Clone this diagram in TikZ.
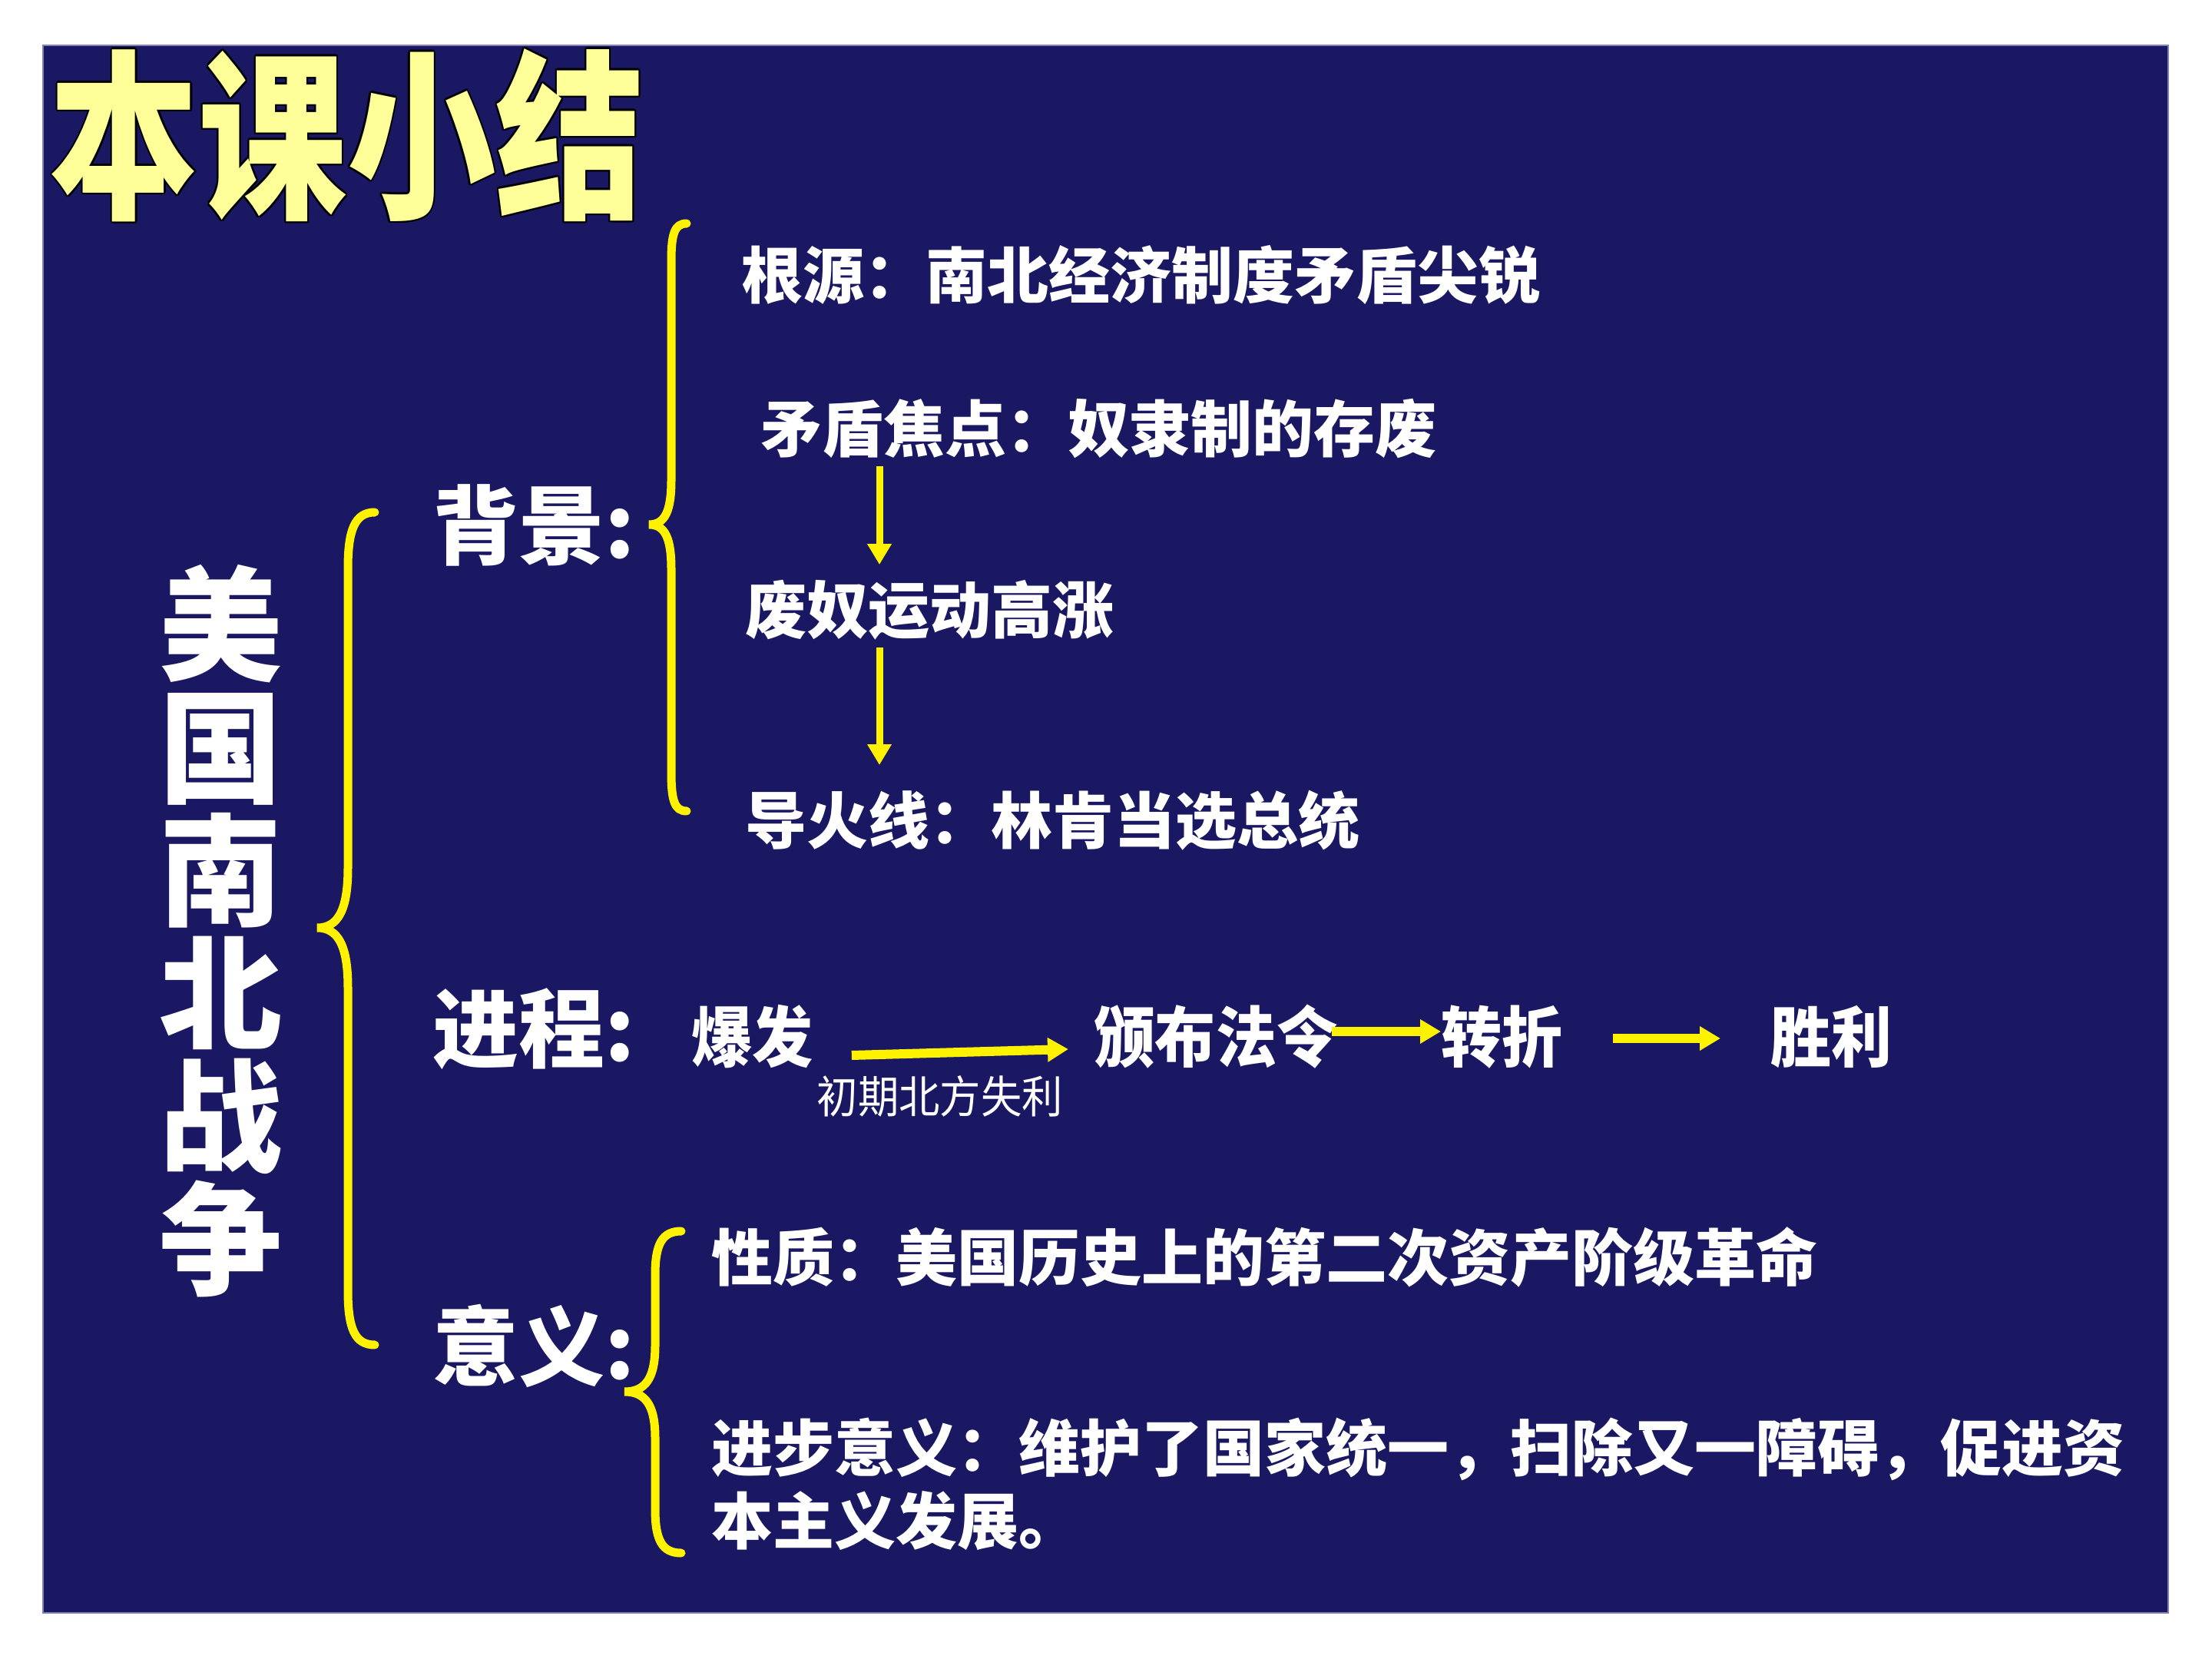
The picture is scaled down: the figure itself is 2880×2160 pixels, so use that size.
\documentclass[tikz,border=0pt]{standalone}
\usepackage{fontspec}
\setmainfont{Noto Sans CJK SC}
\newfontfamily\cjkn[FakeStretch=0.92]{Noto Sans CJK SC}
\newfontfamily\cjkt[FakeStretch=0.82]{Noto Sans CJK SC}
\usetikzlibrary{arrows.meta,calc}
\definecolor{navy}{RGB}{26,24,98}
\definecolor{titley}{RGB}{255,255,153}
\definecolor{rimc}{RGB}{130,130,180}
\newcommand\ttlout[1]{\leavevmode
  \rlap{\color{black}\kern0.6pt#1}%
  \rlap{\color{black}\kern-0.6pt#1}%
  \rlap{\color{black}\raisebox{0.6pt}{#1}}%
  \rlap{\color{black}\raisebox{-0.6pt}{#1}}%
  \rlap{\color{black}\kern0.45pt\raisebox{0.45pt}{#1}}%
  \rlap{\color{black}\kern-0.45pt\raisebox{0.45pt}{#1}}%
  \rlap{\color{black}\kern0.45pt\raisebox{-0.45pt}{#1}}%
  \rlap{\color{black}\kern-0.45pt\raisebox{-0.45pt}{#1}}%
  {\color{titley}#1}}
\begin{document}
\begin{tikzpicture}[x=0.25pt,y=-0.25pt,
  txt/.style={text=white, inner sep=0pt, anchor=west, font=\fontsize{20}{23.75}\selectfont\bfseries},
  head/.style={text=white, inner sep=0pt, anchor=west, font=\fontsize{28}{32}\selectfont\bfseries},
  prog/.style={text=white, inner sep=0pt, anchor=west, font=\cjkn\fontsize{21.5}{24}\selectfont\bfseries},
  note/.style={text=white, inner sep=0pt, anchor=west, font=\cjkn\fontsize{14.5}{16}\selectfont},
  bracel/.style={draw=yellow, line width=2.75pt, line cap=round},
  varrow/.style={draw=yellow, line width=2.25pt, -{Triangle[length=6.75pt,width=7.5pt]}},
  harrow/.style={draw=yellow, line width=3pt, -{Triangle[length=6.75pt,width=7.5pt]}}]
\useasboundingbox (0,0) rectangle (2880,2160);
\fill[white] (0,0) rectangle (2880,2160);
\filldraw[fill=navy, draw=rimc, line width=0.5pt] (56,59) rectangle (2823,2100);

% title
\node[inner sep=0pt, font=\cjkt\fontsize{59}{59}\selectfont\bfseries] (title) at (452,176) {\ttlout{本课小结}};

% vertical main title
\node[inner sep=0pt, align=center, text=white, font=\fontsize{40}{40}\selectfont\bfseries] (vt) at (287,1212) {美\\国\\南\\北\\战\\争};

% big brace
\draw[bracel] (488,667) .. controls (462,667) and (453,690) .. (453,740) -- (453,1130)
  .. controls (453,1185) and (440,1208) .. (413,1208)
  .. controls (440,1208) and (453,1231) .. (453,1286) -- (453,1680)
  .. controls (453,1730) and (462,1751) .. (488,1751);

% headings
\node[head] (h1) at (563,684) {背景:};
\node[head] (h2) at (563,1340) {进程:};
\node[head] (h3) at (563,1752) {意义:};

% background brace
\draw[bracel] (894,291) .. controls (878,291) and (874,305) .. (874,340) -- (874,625)
  .. controls (874,665) and (866,683) .. (845,683)
  .. controls (866,683) and (874,701) .. (874,741) -- (874,1005)
  .. controls (874,1042) and (878,1056) .. (894,1056);

% background items
\node[txt] (g1) at (965,358) {根源：南北经济制度矛盾尖锐};
\node[txt] (g2) at (990,558) {矛盾焦点：奴隶制的存废};
\node[txt] (g3) at (970,794) {废奴运动高涨};
\node[txt] (g4) at (970,1068) {导火线：林肯当选总统};
\coordinate (ax) at (1145,0);
\draw[varrow, shorten <=2.25pt, shorten >=4.75pt] (g2.south -| ax) -- (g3.north -| ax);
\draw[varrow, shorten <=2.25pt, shorten >=8pt] (g3.south -| ax) -- (g4.north -| ax);

% progress row
\node[prog] (b1) at (900,1350) {爆发};
\node[prog] (b2) at (1424,1350) {颁布法令};
\node[prog] (b3) at (1876,1350) {转折};
\node[prog] (b4) at (2305,1350) {胜利};
\node[note] (n1) at (1063,1427) {初期北方失利};
\draw[harrow] ($(b1.east)+(49,24)$) -- ($(b2.west)+(-33,16)$);
\draw[harrow, shorten <=-2pt] ([yshift=1.75pt]b2.east) -- ([yshift=1.75pt]b3.west);
\draw[harrow, shorten <=16pt, shorten >=16.25pt] ([yshift=-0.5pt]b3.east) -- ([yshift=-0.5pt]b4.west);

% significance brace
\draw[bracel] (887,1603) .. controls (862,1603) and (853,1620) .. (853,1660) -- (853,1752)
  .. controls (853,1795) and (840,1812) .. (813,1812)
  .. controls (840,1812) and (853,1829) .. (853,1872) -- (853,1965)
  .. controls (853,2005) and (862,2022) .. (887,2022);

\node[txt] (y1) at (926,1637) {性质：美国历史上的第二次资产阶级革命};
\node[txt, align=left] (y2) at (926,1932) {进步意义：维护了国家统一，扫除又一障碍，促进资\\本主义发展。};
\end{tikzpicture}
\end{document}
